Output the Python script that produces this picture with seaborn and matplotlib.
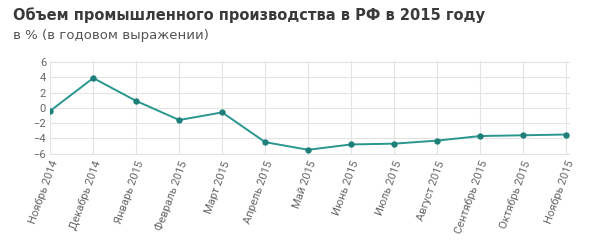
import pandas as pd
import seaborn as sns
import matplotlib.pyplot as plt

sns.set_theme(style="whitegrid")
plt.rcParams['font.family'] = ['Liberation Sans Narrow', 'Roboto', 'DejaVu Sans']

# данные: объем промышленного производства, % г/г
months = ["Ноябрь 2014", "Декабрь 2014", "Январь 2015", "Февраль 2015", "Март 2015",
          "Апрель 2015", "Май 2015", "Июнь 2015", "Июль 2015", "Август 2015",
          "Сентябрь 2015", "Октябрь 2015", "Ноябрь 2015"]
values = [-0.4, 3.9, 0.9, -1.6, -0.6, -4.5, -5.5, -4.8, -4.7, -4.3, -3.7, -3.6, -3.5]

df = pd.DataFrame({"pos": range(len(months)), "value": values})

fig = plt.figure(figsize=(5.91, 2.47), dpi=100)
ax = fig.add_axes([0.085, 0.372, 0.88, 0.383])

sns.lineplot(data=df, x="pos", y="value", ax=ax, color="#2a9690", linewidth=1.4,
             marker="o", markersize=3.8, markerfacecolor="#1e7f7a", markeredgecolor="#1e7f7a")

ax.set_xlim(0, len(months) - 1 + 0.1)
ax.set_ylim(-6.2, 6.2)
ax.set_yticks([-6, -4, -2, 0, 2, 4, 6])
ax.set_xticks(range(len(months)))
ax.set_xticklabels(months, rotation=70, ha="right", rotation_mode="anchor")
ax.tick_params(axis="both", labelsize=8, labelcolor="#666666", length=0, pad=3)
ax.set_xlabel("")
ax.set_ylabel("")
ax.grid(True, color="#e3e3e3", linewidth=0.8)
for s in ax.spines.values():
    s.set_visible(False)

fig.text(0.022, 0.94, "Объем промышленного производства в РФ в 2015 году",
         fontsize=10.5, fontweight="bold", color="#3a3a3a", va="center",
         family=["DejaVu Sans"])
fig.text(0.022, 0.855, "в % (в годовом выражении)", fontsize=9.5, color="#555555",
         va="center", family=["DejaVu Sans"])

fig.savefig("out.png", dpi=100)
